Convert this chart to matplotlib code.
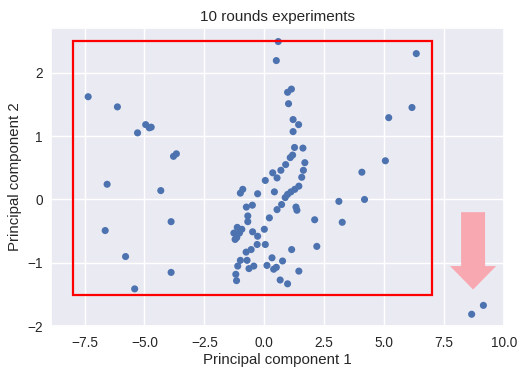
import matplotlib
matplotlib.use("Agg")
import matplotlib.pyplot as plt
import seaborn as sns
from matplotlib.patches import Rectangle, FancyArrow

sns.set_theme(style="darkgrid")
plt.rcParams['font.family'] = ['Liberation Sans', 'DejaVu Sans']

pc1 = [-7.35, -6.13, -5.29, -4.95, -4.80, -4.72, -3.79, -3.67, -6.56, -4.32,
       -6.64, -3.89, -5.79, -3.89, -5.41,
       0.58, 0.50, 0.97, 1.13, 1.01, 1.20, 1.43, 1.20,
       6.34, 6.16, 5.19, 5.05, 4.07, 3.11, 4.18, 3.25, 8.65, 9.14,
       1.26, 1.61, 1.18, 1.08, 0.89, 1.69, 1.63, 0.69, 0.35, 0.53,
       1.56, 0.04, 1.44, 1.27, 1.11, 0.97, 0.87, 0.42, -0.28, -0.90,
       -1.00, 0.72, 1.32, 1.36, -0.50, -0.75, 0.53, -0.69, -0.69, 0.21,
       2.10, -1.13, -0.94, -1.27, -1.04, -1.15, -1.22, -0.49, -0.28, 0.00,
       -0.30, 0.04, 2.19, 1.14, -0.55, -0.76, -1.00, -0.72, -1.11, -0.44,
       -0.64, 0.32, 0.76, 0.11, 0.50, 0.39, 1.44, -1.19, -1.16, 0.66, 0.97]
pc2 = [1.62, 1.46, 1.05, 1.18, 1.13, 1.14, 0.68, 0.72, 0.24, 0.14,
       -0.49, -0.35, -0.90, -1.15, -1.41,
       2.49, 2.19, 1.69, 1.74, 1.51, 1.26, 1.18, 1.07,
       2.30, 1.45, 1.29, 0.61, 0.43, -0.03, 0.00, -0.36, -1.81, -1.67,
       0.82, 0.81, 0.70, 0.66, 0.55, 0.58, 0.46, 0.46, 0.42, 0.34,
       0.35, 0.30, 0.21, 0.16, 0.12, 0.08, 0.03, 0.12, 0.09, 0.16,
       0.10, -0.08, -0.12, -0.17, -0.09, -0.12, -0.16, -0.26, -0.35, -0.29,
       -0.32, -0.44, -0.47, -0.53, -0.53, -0.60, -0.63, -0.51, -0.58, -0.47,
       -0.71, -0.71, -0.74, -0.79, -0.79, -0.83, -0.96, -0.96, -1.05, -1.05,
       -1.09, -0.92, -0.97, -1.04, -1.07, -1.10, -1.13, -1.18, -1.28, -1.27, -1.33]

title = "10 rounds experiments"
xlabel = "Principal component 1"
ylabel = "Principal component 2"
xticks = [-7.5, -5.0, -2.5, 0.0, 2.5, 5.0, 7.5, 10.0]
yticks = [-2, -1, 0, 1, 2]

box_x0, box_x1, box_y0, box_y1 = -8.0, 7.0, -1.5, 2.5
arrow_x, arrow_y0, arrow_y1 = 8.71, -0.2, -1.42

fig = plt.figure(figsize=(5.18, 3.68), dpi=100)
ax = fig.add_axes([0.0985, 0.1133, 0.8745, 0.8117])
ax.scatter(pc1, pc2, s=26, color="#4C72B0", edgecolors="none", zorder=3)
ax.add_patch(Rectangle((box_x0, box_y0), box_x1 - box_x0, box_y1 - box_y0,
                       fill=False, edgecolor="red", linewidth=1.6, zorder=4))
ax.add_patch(FancyArrow(arrow_x, arrow_y0, 0, arrow_y1 - arrow_y0, width=1.0,
                        head_width=1.92, head_length=0.37,
                        length_includes_head=True, color="#f8a8b0",
                        linewidth=0, zorder=4))
ax.set_xlim(-8.9, 10.0)
ax.set_ylim(-2.0, 2.71)
ax.set_xticks(xticks)
ax.set_yticks(yticks)
ax.tick_params(axis="x", labelsize=9.8, length=0, pad=7.2)
ax.tick_params(axis="y", labelsize=9.8, length=0, pad=5.8)
ax.set_title(title, fontsize=11, pad=5)
ax.set_xlabel(xlabel, fontsize=10.8, labelpad=2)
ax.set_ylabel(ylabel, fontsize=10.8, labelpad=4)
fig.savefig("out.png", dpi=100)
